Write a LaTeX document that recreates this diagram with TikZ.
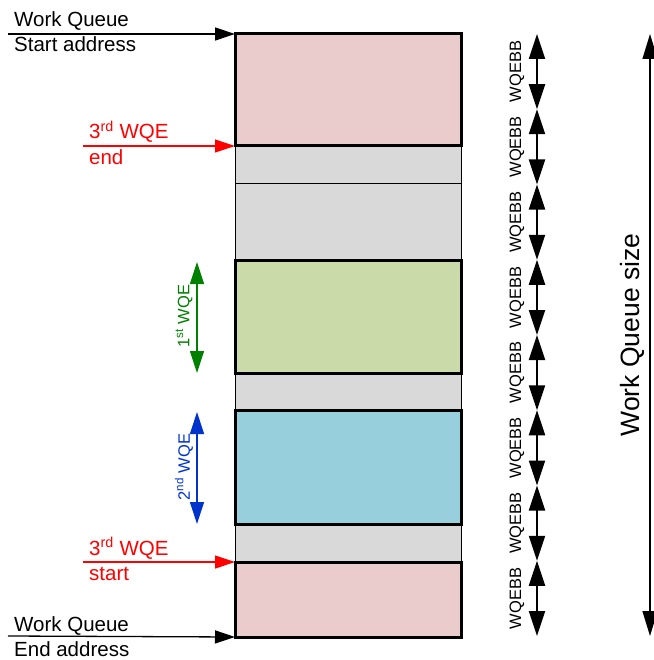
\documentclass[tikz,border=0pt]{standalone}
\usepackage{fontspec}
\setmainfont{Liberation Sans}
\usetikzlibrary{arrows.meta,calc}
\definecolor{pinkf}{RGB}{235,204,204}
\definecolor{greenf}{RGB}{202,219,169}
\definecolor{bluef}{RGB}{152,207,221}
\definecolor{grayf}{RGB}{217,217,217}
\definecolor{wqred}{RGB}{255,0,0}
\definecolor{wqgreen}{RGB}{0,128,0}
\definecolor{wqblue}{RGB}{0,51,204}
\tikzset{
  slot/.style={draw=black, fill=grayf, line width=1pt, inner sep=0pt, outer sep=0pt, minimum width=226pt, anchor=north west},
  wqe/.style={draw=black, line width=3pt, inner sep=0pt, outer sep=0pt, minimum width=226pt, anchor=north west},
  lbl/.style={font=\fontsize{20.5}{24}\selectfont, inner sep=0pt, anchor=base west},
  bbl/.style={font=\fontsize{16.5}{19}\selectfont, inner sep=0pt, rotate=90},
  bigtip/.style={{Triangle[length=25pt,width=16pt]}-{Triangle[length=25pt,width=16pt]}, line width=2pt},
  sidetip/.style={-{Triangle[length=20pt,width=13pt]}},
  wqtip/.style={{Triangle[length=22pt,width=14pt]}-{Triangle[length=22pt,width=14pt]}, line width=1.2pt},
}
\begin{document}
\begin{tikzpicture}[x=1pt,y=-1pt]
\useasboundingbox (0,0) rectangle (653,660);
% gray slots
\node[slot, minimum height=38pt] (s1) at (235,146) {};
\node[slot, minimum height=76pt] (s2) at (235,184) {};
\node[slot, minimum height=37pt] (s3) at (235,373) {};
\node[slot, minimum height=38pt] (s4) at (235,524) {};
% WQE boxes
\node[wqe, fill=pinkf, minimum height=112pt] (p1) at (235,34) {};
\node[wqe, fill=greenf, minimum height=113pt] (g) at (235,260) {};
\node[wqe, fill=bluef, minimum height=114pt] (b) at (235,410) {};
\node[wqe, fill=pinkf, minimum height=75pt] (p2) at (235,562) {};
% left side arrows
\coordinate (ws) at (8,34);
\coordinate (we) at (8,636);
\coordinate (re) at (83,146);
\coordinate (rs) at (83,562);
\draw[sidetip, line width=1.3pt, black] (ws) -- (p1.north west);
\draw[sidetip, line width=1.3pt, black] (we) -- (p2.south west);
\draw[sidetip, line width=1.2pt, wqred] (re) -- (p1.south west);
\draw[sidetip, line width=1.2pt, wqred] (rs) -- (p2.north west);
\node[lbl] (t1) at (14,27) {Work Queue};
\node[lbl] (t2) at (14,52) {Start address};
\node[lbl, text=wqred] (t3) at (89,139) {3\textsuperscript{rd} WQE};
\node[lbl, text=wqred] (t4) at (89,165) {end};
\node[lbl, text=wqred] (t5) at (89,555) {3\textsuperscript{rd} WQE};
\node[lbl, text=wqred] (t6) at (89,580) {start};
\node[lbl] (t7) at (14,631) {Work Queue};
\node[lbl] (t8) at (14,656) {End address};
% WQE size arrows
\coordinate (ga) at (197,262);
\coordinate (gb) at (197,373);
\coordinate (ba) at (197,412);
\coordinate (bb) at (197,524);
\draw[wqtip, wqgreen] (ga) -- (gb);
\draw[wqtip, wqblue] (ba) -- (bb);
\node[bbl, text=wqgreen] (gl) at (184,316) {1\textsuperscript{st} WQE};
\node[bbl, text=wqblue] (bl) at (184,467) {2\textsuperscript{nd} WQE};
% WQEBB arrows
\foreach \k in {0,...,8} {
  \coordinate (q\k) at (537,{34+75.25*\k});
}
\foreach \k [evaluate=\k as \n using int(\k+1)] in {0,...,7} {
  \draw[bigtip] (q\k) -- (q\n);
  \node[bbl] (wl\k) at (517,{34+75.25*\k+37.6}) {WQEBB};
}
% total size
\coordinate (za) at (650,34);
\coordinate (zb) at (650,636);
\draw[line width=1.3pt, {Triangle[length=25pt,width=15pt]}-{Triangle[length=25pt,width=15pt]}] (za) -- (zb);
\node[bbl, font=\fontsize{26.5}{30}\selectfont] (zl) at (632,335) {Work Queue size};
\end{tikzpicture}
\end{document}
